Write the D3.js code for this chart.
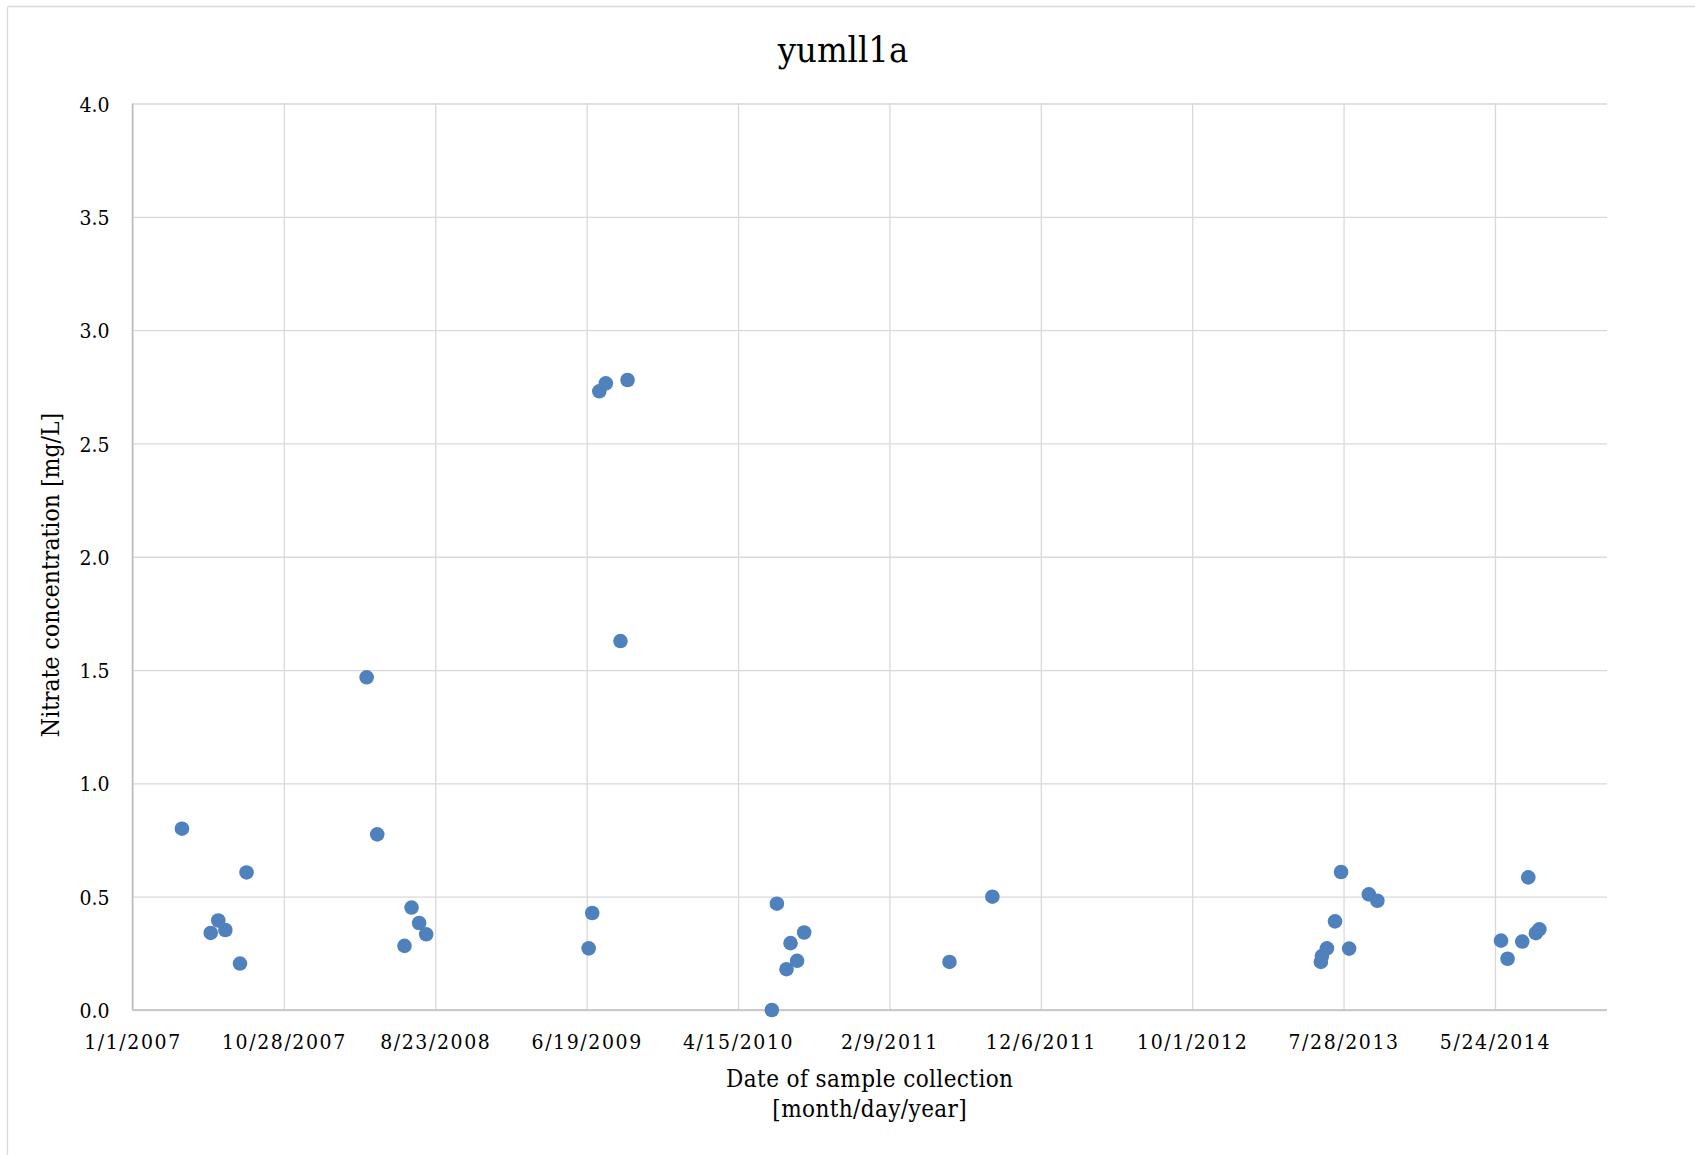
<!DOCTYPE html>
<html>
<head>
<meta charset="utf-8">
<script src="https://cdn.jsdelivr.net/npm/d3@7"></script>
<style>
  body { margin: 0; background: #fff; }
  svg { display: block; }
</style>
</head>
<body>
<svg id="chart" width="1695" height="1155"></svg>
<script>
// sample collection dates and nitrate values
const sampleDates = [
  '4/9/2007', '6/5/2007', '6/20/2007', '7/4/2007', '8/2/2007', '8/15/2007',
  '4/9/2008', '4/30/2008', '6/23/2008', '7/7/2008', '7/22/2008', '8/5/2008',
  '6/23/2009', '6/30/2009', '7/14/2009', '7/27/2009', '8/25/2009', '9/8/2009',
  '6/21/2010', '7/1/2010', '7/20/2010', '7/28/2010', '8/10/2010', '8/24/2010',
  '6/8/2011', '9/1/2011',
  '6/13/2013', '6/15/2013', '6/25/2013', '7/11/2013', '7/23/2013', '8/8/2013', '9/16/2013', '10/3/2013',
  '6/5/2014', '6/18/2014', '7/17/2014', '7/29/2014', '8/13/2014', '8/20/2014'
];
const nitrate = [
  0.80, 0.34, 0.395, 0.353, 0.205, 0.607,
  1.468, 0.775, 0.283, 0.452, 0.384, 0.334,
  0.272, 0.428, 2.73, 2.765, 1.628, 2.78,
  0.0, 0.469, 0.18, 0.295, 0.217, 0.342,
  0.212, 0.50,
  0.212, 0.238, 0.272, 0.391, 0.609, 0.271, 0.51, 0.482,
  0.306, 0.226, 0.302, 0.585, 0.339, 0.356
];
const xTickLabels = ['1/1/2007', '10/28/2007', '8/23/2008', '6/19/2009', '4/15/2010',
  '2/9/2011', '12/6/2011', '10/1/2012', '7/28/2013', '5/24/2014'];
const xDomain = ['1/1/2007', '1/1/2015'];
const yTicks = [0, 0.5, 1.0, 1.5, 2.0, 2.5, 3.0, 3.5, 4.0];

const parseDate = d3.timeParse('%m/%d/%Y');
const fmtDate = d => (d.getMonth() + 1) + '/' + d.getDate() + '/' + d.getFullYear();

const data = sampleDates.map((d, i) => ({date: parseDate(d), value: nitrate[i]}));

const serif = "'DejaVu Serif Condensed', 'DejaVu Serif', serif";

const svg = d3.select('#chart');

// chart area border (only top and left edges fall inside the picture)
svg.append('line')
  .attr('x1', 7.5).attr('x2', 1695)
  .attr('y1', 6.5).attr('y2', 6.5)
  .attr('stroke', '#d9d9d9')
  .attr('stroke-width', 1.3);
svg.append('line')
  .attr('x1', 7.5).attr('x2', 7.5)
  .attr('y1', 6.5).attr('y2', 1155)
  .attr('stroke', '#d9d9d9')
  .attr('stroke-width', 1.3);

const margin = {top: 103.5, right: 88, bottom: 145, left: 132.5};
const width = +svg.attr('width');
const height = +svg.attr('height');
const innerWidth = width - margin.left - margin.right;
const innerHeight = height - margin.top - margin.bottom;

const xScale = d3.scaleTime()
  .domain(xDomain.map(parseDate))
  .range([0, innerWidth]);

const yScale = d3.scaleLinear()
  .domain([0, 4])
  .range([innerHeight, 0]);

const g = svg.append('g')
  .attr('transform', 'translate(' + margin.left + ',' + margin.top + ')');

// horizontal grid
const yAxisG = g.append('g')
  .call(d3.axisLeft(yScale)
    .tickValues(yTicks)
    .tickSize(-innerWidth)
    .tickPadding(23)
    .tickFormat(d3.format('.1f')));
yAxisG.select('.domain').remove();
yAxisG.selectAll('line')
  .attr('stroke', '#d9d9d9')
  .attr('stroke-width', 1.3);
yAxisG.selectAll('text')
  .style('font-family', serif)
  .style('font-stretch', 'condensed')
  .style('font-size', '21px')
  .style('fill', '#000')
  .attr('dy', '0.36em');

// vertical grid + date labels
const xAxisG = g.append('g')
  .attr('transform', 'translate(0,' + innerHeight + ')')
  .call(d3.axisBottom(xScale)
    .tickValues(xTickLabels.map(parseDate))
    .tickSize(-innerHeight)
    .tickPadding(24)
    .tickFormat(fmtDate));
xAxisG.select('.domain').remove();
xAxisG.selectAll('line')
  .attr('stroke', '#d9d9d9')
  .attr('stroke-width', 1.3);
xAxisG.selectAll('text')
  .style('font-family', serif)
  .style('font-stretch', 'condensed')
  .style('font-size', '21px')
  .style('letter-spacing', '1.6px')
  .style('fill', '#000');

// axis lines
g.append('line')
  .attr('x1', 0).attr('x2', innerWidth)
  .attr('y1', innerHeight).attr('y2', innerHeight)
  .attr('stroke', '#bfbfbf')
  .attr('stroke-width', 1.6);
g.append('line')
  .attr('x1', 0).attr('x2', 0)
  .attr('y1', 0).attr('y2', innerHeight)
  .attr('stroke', '#bfbfbf')
  .attr('stroke-width', 1.6);

// points
g.selectAll('circle')
  .data(data)
  .enter().append('circle')
  .attr('cx', d => xScale(d.date))
  .attr('cy', d => yScale(d.value))
  .attr('r', 7.3)
  .attr('fill', '#4f81bd');

// titles
svg.append('text')
  .attr('x', 843)
  .attr('y', 62)
  .attr('text-anchor', 'middle')
  .text('yumll1a')
  .style('font-family', serif)
  .style('font-stretch', 'condensed')
  .style('font-size', '36px')
  .style('fill', '#000');

const xTitle = svg.append('text')
  .attr('text-anchor', 'middle')
  .style('font-family', serif)
  .style('font-stretch', 'condensed')
  .style('font-size', '24px')
  .style('letter-spacing', '0.4px')
  .style('fill', '#000');
xTitle.selectAll('tspan')
  .data(['Date of sample collection', '[month/day/year]'])
  .enter().append('tspan')
  .attr('x', margin.left + innerWidth / 2)
  .attr('y', (d, i) => 1087 + i * 30)
  .text(d => d);

svg.append('text')
  .attr('transform', 'translate(59,575) rotate(-90)')
  .attr('text-anchor', 'middle')
  .text('Nitrate concentration [mg/L]')
  .style('font-family', serif)
  .style('font-stretch', 'condensed')
  .style('font-size', '24.5px')
  .style('fill', '#000');
</script>
</body>
</html>
